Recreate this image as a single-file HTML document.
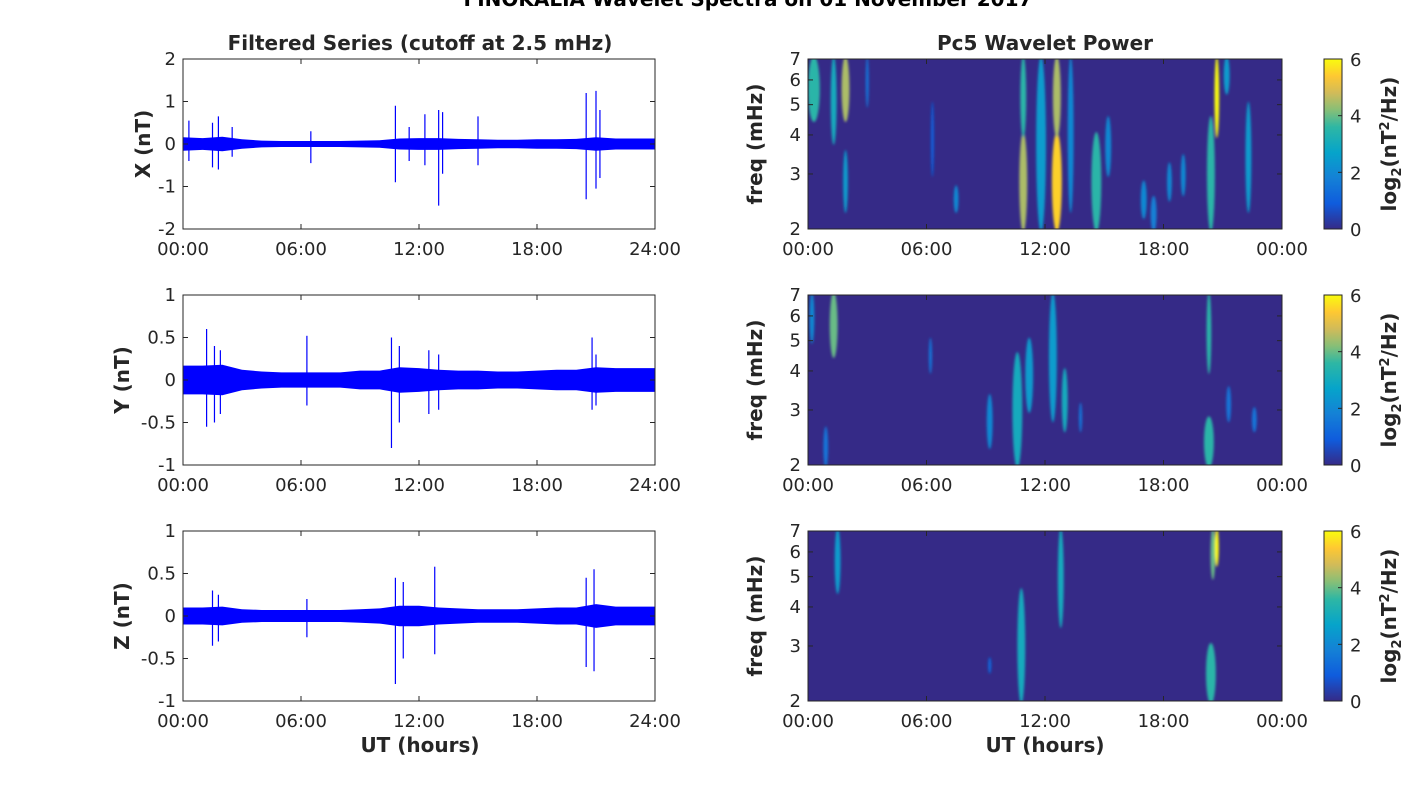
<!DOCTYPE html>
<html><head><meta charset="utf-8"><style>
html,body{margin:0;padding:0;background:#fff;width:1418px;height:788px;overflow:hidden}
svg{display:block;font-family:"DejaVu Sans","Liberation Sans",sans-serif}
</style></head><body>
<svg id="fig" width="1418" height="788" xmlns="http://www.w3.org/2000/svg">
<defs>
<filter id="blur" x="-50%" y="-50%" width="200%" height="200%"><feGaussianBlur stdDeviation="1.4"/></filter>
<linearGradient id="parula" x1="0" y1="1" x2="0" y2="0">
<stop offset="0" stop-color="#352a87"/><stop offset="0.15" stop-color="#0f5cdd"/><stop offset="0.3" stop-color="#1481d6"/><stop offset="0.45" stop-color="#06a4ca"/><stop offset="0.6" stop-color="#2eb7a4"/><stop offset="0.7" stop-color="#87bf77"/><stop offset="0.8" stop-color="#d1bb59"/><stop offset="0.9" stop-color="#fec832"/><stop offset="1" stop-color="#f9fb0e"/>
</linearGradient>
</defs>
<text x="748" y="6" text-anchor="middle" font-size="20" font-weight="bold" fill="#000">FINOKALIA Wavelet Spectra on 01 November 2017</text>
</svg>
<script>
// ---- data ----
const hourTicks = ["00:00","06:00","12:00","18:00","24:00"];
const hourTicksR = ["00:00","06:00","12:00","18:00","00:00"];
const compNames = ["X","Y","Z"];
const yLims = [[-2,2],[-1,1],[-1,1]];
const yTickX = [-2,-1,0,1,2];
const yTickYZ = [-1,-0.5,0,0.5,1];
// baseline noise amplitude per hour (0..24)
const baseX = [0.16,0.14,0.17,0.11,0.08,0.07,0.07,0.07,0.07,0.08,0.09,0.13,0.14,0.14,0.12,0.11,0.1,0.1,0.11,0.11,0.12,0.16,0.13,0.13,0.13];
const baseY = [0.17,0.17,0.18,0.12,0.1,0.09,0.09,0.09,0.09,0.11,0.11,0.15,0.14,0.12,0.11,0.11,0.1,0.1,0.11,0.12,0.12,0.15,0.14,0.14,0.14];
const baseZ = [0.1,0.1,0.11,0.08,0.07,0.07,0.07,0.07,0.07,0.08,0.09,0.12,0.12,0.1,0.09,0.08,0.08,0.08,0.09,0.1,0.1,0.14,0.11,0.11,0.11];
// spikes: hour, max, min
const spikeXt = [0.3,1.5,1.8,2.5,6.5,10.8,11.5,12.3,13.0,13.2,15.0,20.5,21.0,21.2];
const spikeXmax = [0.55,0.5,0.65,0.4,0.3,0.9,0.4,0.7,0.8,0.75,0.65,1.2,1.25,0.8];
const spikeXmin = [-0.4,-0.55,-0.6,-0.3,-0.45,-0.9,-0.4,-0.5,-1.45,-0.7,-0.5,-1.3,-1.05,-0.8];
const spikeYt = [1.2,1.6,1.9,6.3,10.6,11.0,12.5,13.0,20.8,21.0];
const spikeYmax = [0.6,0.4,0.35,0.52,0.5,0.4,0.35,0.3,0.5,0.3];
const spikeYmin = [-0.55,-0.5,-0.4,-0.3,-0.8,-0.5,-0.4,-0.35,-0.35,-0.3];
const spikeZt = [1.5,1.8,6.3,10.8,11.2,12.8,20.5,20.9];
const spikeZmax = [0.3,0.25,0.2,0.45,0.4,0.58,0.45,0.55];
const spikeZmin = [-0.35,-0.3,-0.25,-0.8,-0.5,-0.45,-0.6,-0.65];
// wavelet blobs: hour, fLow, fHigh, half-width (h), power
const w1t = [0.3,1.3,1.9,1.9,3.0,6.3,7.5,10.9,10.9,11.8,12.6,12.6,13.3,14.6,15.2,17.0,17.5,18.3,19.0,20.4,20.7,21.2,22.3];
const w1lo = [4.5,3.8,4.5,2.3,5.0,3.0,2.3,2.0,4.0,2.0,2.0,4.0,2.3,2.0,3.0,2.2,2.0,2.5,2.6,2.0,4.0,5.5,2.3];
const w1hi = [7,7,7,3.5,7,5,2.7,4.0,7,7,4.0,7,7,4.0,4.5,2.8,2.5,3.2,3.4,4.5,7,7,5];
const w1w = [0.3,0.15,0.2,0.12,0.06,0.06,0.12,0.2,0.15,0.25,0.25,0.2,0.15,0.25,0.15,0.15,0.15,0.12,0.12,0.2,0.12,0.15,0.15];
const w1p = [3.5,3,4.5,2.5,1.5,1,2,4.5,3.5,2.5,5.5,4.5,2,3.5,2,2,1.8,2,2,3.5,6,2.5,2.5];
const w2t = [0.2,1.3,0.9,6.2,9.2,10.6,11.2,12.4,13.0,13.8,20.3,20.3,21.3,22.6];
const w2lo = [5,4.5,2,4,2.3,2,3,2.8,2.6,2.6,2,4,2.8,2.6];
const w2hi = [7,7,2.6,5,3.3,4.5,5,7,4,3.1,2.8,7,3.5,3];
const w2w = [0.12,0.2,0.12,0.08,0.15,0.25,0.2,0.2,0.15,0.08,0.25,0.12,0.12,0.12];
const w2p = [2,4,1.5,1.5,2,3,2.5,2.5,3,1.5,3.5,3.5,1.5,1.5];
const w3t = [1.5,9.2,10.8,12.8,20.4,20.5,20.7];
const w3lo = [4.5,2.5,2,3.5,2,5,5.5];
const w3hi = [7,2.7,4.5,7,3,7,7];
const w3w = [0.15,0.08,0.2,0.15,0.25,0.12,0.1];
const w3p = [2.5,1.2,3,3,3.5,4,6];
const cbTicks = [0,2,4,6];
const fTicks = [2,3,4,5,6,7];

// ---- drawing ----
const NS="http://www.w3.org/2000/svg";
const svg=document.getElementById('fig');
function mk(tag,attrs,parent){const e=document.createElementNS(NS,tag);for(const k in attrs)e.setAttribute(k,attrs[k]);(parent||svg).appendChild(e);return e;}
function txt(x,y,s,size,anchor,bold,parent){const t=mk('text',{x:x,y:y,'font-size':size,'text-anchor':anchor,fill:'#262626'},parent);if(bold)t.setAttribute('font-weight','bold');t.textContent=s;return t;}
const rowsY=[59,295,531], H=170;
const labelX=[143,122,122];
const L={x:183,w:472}, R={x:808,w:474};
const bases=[baseX,baseY,baseZ];
const spk=[[spikeXt,spikeXmax,spikeXmin],[spikeYt,spikeYmax,spikeYmin],[spikeZt,spikeZmax,spikeZmin]];
const wav=[[w1t,w1lo,w1hi,w1w,w1p],[w2t,w2lo,w2hi,w2w,w2p],[w3t,w3lo,w3hi,w3w,w3p]];
const stops=[[0,[53,42,135]],[0.15,[15,92,221]],[0.3,[20,129,214]],[0.45,[6,164,202]],[0.6,[46,183,164]],[0.7,[135,191,119]],[0.8,[209,187,89]],[0.9,[254,200,50]],[1,[249,251,14]]];
function parula(v){v=Math.max(0,Math.min(1,v));for(let i=1;i<stops.length;i++){if(v<=stops[i][0]){const a=stops[i-1],b=stops[i],f=(v-a[0])/(b[0]-a[0]);return 'rgb('+a[1].map((c,j)=>Math.round(c+(b[1][j]-c)*f)).join(',')+')';}}return 'rgb(249,251,14)';}

for(let r=0;r<3;r++){
  const top=rowsY[r], lim=yLims[r];
  const xs=h=>L.x+h/24*L.w;
  const ys=v=>top+H*(lim[1]-v)/(lim[1]-lim[0]);
  const g=mk('g',{});
  
  
  mk('rect',{x:L.x,y:top,width:L.w,height:H,fill:'#fff'},g);
  const b=bases[r];let up='',dn='';
  for(let i=0;i<b.length;i++){up+=(i?'L':'M')+xs(i).toFixed(1)+','+ys(b[i]).toFixed(1);}
  for(let i=b.length-1;i>=0;i--){dn+='L'+xs(i).toFixed(1)+','+ys(-b[i]).toFixed(1);}
  const band=mk('path',{d:up+dn+'Z',fill:'#0000ff'},g);
  
  
  const s=spk[r];
  for(let i=0;i<s[0].length;i++){
    const l=mk('line',{x1:xs(s[0][i]),x2:xs(s[0][i]),y1:ys(s[1][i]),y2:ys(s[2][i]),stroke:'#0000ff','stroke-width':1.2},g);
    
    
  }
  mk('rect',{x:L.x,y:top,width:L.w,height:H,fill:'none',stroke:'#262626','stroke-width':1},g);
  const yt=r===0?yTickX:yTickYZ;
  yt.forEach(v=>{const y=ys(v);mk('line',{x1:L.x,x2:L.x+5,y1:y,y2:y,stroke:'#262626'},g);mk('line',{x1:L.x+L.w,x2:L.x+L.w-5,y1:y,y2:y,stroke:'#262626'},g);txt(L.x-7,y+6,String(v),18,'end',false,g);});
  hourTicks.forEach((t,i)=>{const x=xs(i*6);mk('line',{x1:x,x2:x,y1:top+H,y2:top+H-5,stroke:'#262626'},g);mk('line',{x1:x,x2:x,y1:top,y2:top+5,stroke:'#262626'},g);txt(x,top+H+26,t,18,'middle',false,g);});
  const yl=txt(0,0,compNames[r]+' (nT)',20,'middle',true,g);
  yl.setAttribute('transform','translate('+(labelX[r]+7)+','+(top+H/2)+') rotate(-90)');

  const wg=mk('g',{});
  
  
  const cid='clip'+r;
  const cp=mk('clipPath',{id:cid},wg);mk('rect',{x:R.x,y:top,width:R.w,height:H},cp);
  const xr=h=>R.x+h/24*R.w;
  const fy=f=>top+H*(Math.log(7)-Math.log(f))/(Math.log(7)-Math.log(2));
  mk('rect',{x:R.x,y:top,width:R.w,height:H,fill:'#352a87'},wg);
  const inner=mk('g',{'clip-path':'url(#'+cid+')',filter:'url(#blur)'},wg);
  const w=wav[r];
  for(let i=0;i<w[0].length;i++){
    const y1=fy(w[2][i]),y2=fy(w[1][i]);
    const e=mk('ellipse',{cx:xr(w[0][i]),cy:(y1+y2)/2,rx:Math.max(1.5,w[3][i]/24*R.w),ry:(y2-y1)/2+3,fill:parula(w[4][i]/6)},inner);
    
    
  }
  mk('rect',{x:R.x,y:top,width:R.w,height:H,fill:'none',stroke:'#262626'},wg);
  fTicks.forEach(f=>{const y=fy(f);mk('line',{x1:R.x,x2:R.x+5,y1:y,y2:y,stroke:'#262626'},wg);mk('line',{x1:R.x+R.w,x2:R.x+R.w-5,y1:y,y2:y,stroke:'#262626'},wg);txt(R.x-7,y+6,String(f),18,'end',false,wg);});
  hourTicksR.forEach((t,i)=>{const x=xr(i*6);mk('line',{x1:x,x2:x,y1:top+H,y2:top+H-5,stroke:'#262626'},wg);mk('line',{x1:x,x2:x,y1:top,y2:top+5,stroke:'#262626'},wg);txt(x,top+H+26,t,18,'middle',false,wg);});
  const fl=txt(0,0,'freq (mHz)',20,'middle',true,wg);
  fl.setAttribute('transform','translate(762,'+(top+H/2)+') rotate(-90)');
  const cb=mk('g',{});
  
  
  mk('rect',{x:1324,y:top,width:18,height:H,fill:'url(#parula)',stroke:'#262626'},cb);
  cbTicks.forEach(v=>{const y=top+H-v/6*H;mk('line',{x1:1342,x2:1338,y1:y,y2:y,stroke:'#262626'},cb);txt(1350,y+7,String(v),18,'start',false,cb);});
  const cl=mk('text',{'font-size':20,'font-weight':'bold','text-anchor':'middle',fill:'#262626',transform:'translate(1396,'+(top+H/2)+') rotate(-90)'},cb);
  cl.innerHTML='log<tspan font-size="13" dy="5">2</tspan><tspan dy="-5">(nT</tspan><tspan font-size="13" dy="-7">2</tspan><tspan dy="7">/Hz)</tspan>';
}
const t1=txt(420,50,'Filtered Series (cutoff at 2.5 mHz)',20,'middle',true);

const t2=txt(1045,50,'Pc5 Wavelet Power',20,'middle',true);

const x1=txt(420,752,'UT (hours)',20,'middle',true);

const x2=txt(1045,752,'UT (hours)',20,'middle',true);

</script>
</body></html>
